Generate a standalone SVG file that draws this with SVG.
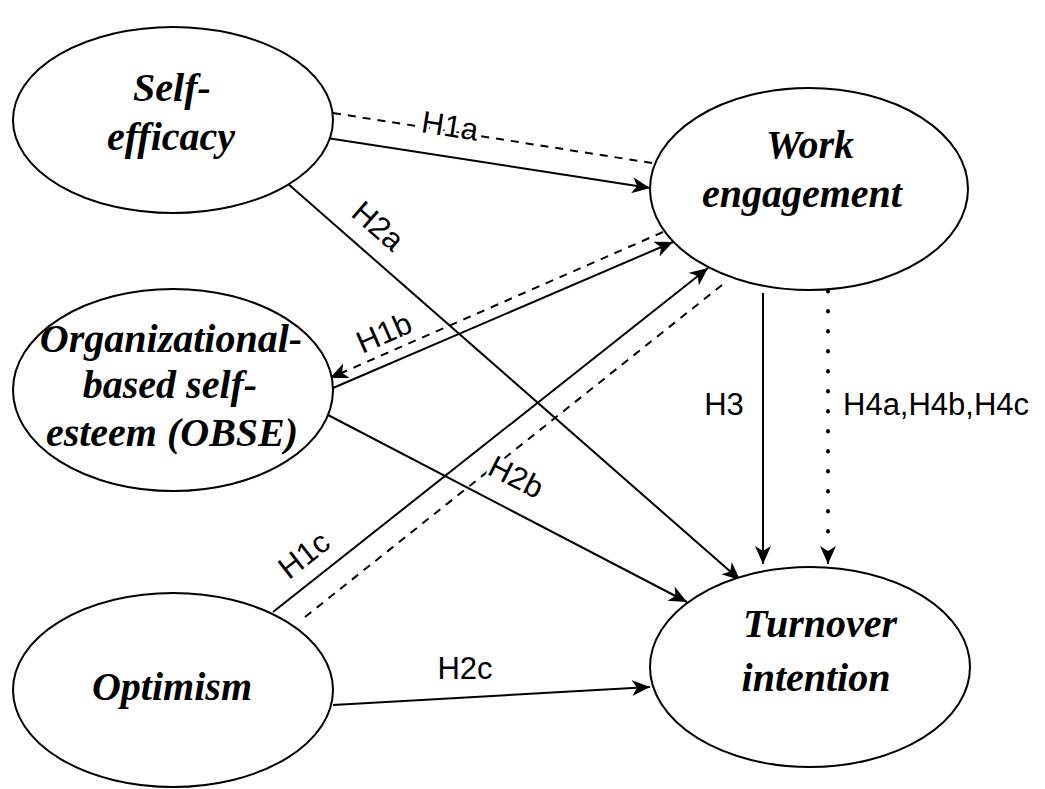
<svg xmlns="http://www.w3.org/2000/svg" width="1045" height="789" viewBox="0 0 1045 789">
<style>
.node ellipse{fill:#fff;stroke:#000;stroke-width:2}
.nt{font-family:"Liberation Serif","Times New Roman",serif;font-style:italic;font-weight:bold;font-size:40px;text-anchor:middle;fill:#000}
.lbl{font-family:"Liberation Sans",Arial,sans-serif;font-size:31px;fill:#000;text-anchor:middle;dominant-baseline:central;stroke:#fff;stroke-width:5;paint-order:stroke;stroke-linejoin:round}
.c{fill:none;stroke:#000;stroke-width:2}
.dash{stroke-dasharray:8 7}
.dot{stroke-dasharray:0.5 19.5;stroke-width:4;stroke-linecap:round}
</style>
<defs>
<marker id="ah" markerUnits="userSpaceOnUse" markerWidth="20" markerHeight="16" refX="18" refY="8" orient="auto">
<path d="M0,0 L18,8 L0,16 L5,8 z" fill="#000" stroke="none"/>
</marker>
</defs>
<rect width="1045" height="789" fill="#fff"/>
<g id="connectors">
<line class="c dash" x1="333" y1="113" x2="652" y2="163"/>
<line class="c" x1="327" y1="138" x2="650" y2="188" marker-end="url(#ah)"/>
<line class="c" x1="287" y1="183" x2="740" y2="580" marker-end="url(#ah)"/>
<line class="c dash" x1="663" y1="232" x2="330" y2="378" marker-end="url(#ah)"/>
<line class="c" x1="333" y1="388" x2="673" y2="242" marker-end="url(#ah)"/>
<line class="c" x1="273" y1="612" x2="708" y2="268" marker-end="url(#ah)"/>
<line class="c dash" x1="305" y1="617" x2="722" y2="285"/>
<line class="c" x1="328" y1="415" x2="687" y2="602" marker-end="url(#ah)"/>
<line class="c" x1="333" y1="705" x2="650" y2="687" marker-end="url(#ah)"/>
<line class="c" x1="763" y1="293" x2="763" y2="564" marker-end="url(#ah)"/>
<line class="c dot" x1="828" y1="291" x2="828" y2="548"/>
<line class="c" x1="828" y1="556" x2="828" y2="564" marker-end="url(#ah)"/>
<g id="labels">
<text class="lbl" transform="translate(450,126) rotate(9)">H1a</text>
<text class="lbl" transform="translate(378,226) rotate(41)">H2a</text>
<text class="lbl" transform="translate(384,333) rotate(-23.7)">H1b</text>
<text class="lbl" transform="translate(304,555) rotate(-38)">H1c</text>
<text class="lbl" transform="translate(516,477) rotate(27)">H2b</text>
<text class="lbl" x="465" y="668">H2c</text>
<text class="lbl" x="724" y="404">H3</text>
<text class="lbl" x="843" y="404" style="text-anchor:start">H4a,H4b,H4c</text>
</g>
</g>
<g id="self-efficacy" class="node">
<ellipse cx="173" cy="120" rx="160" ry="93"/>
<text class="nt" x="172" y="101">Self-</text>
<text class="nt" x="171" y="150">efficacy</text>
</g>
<g id="obse" class="node">
<ellipse cx="173" cy="390" rx="160" ry="101"/>
<text class="nt" x="171" y="352">Organizational-</text>
<text class="nt" x="170" y="398">based self-</text>
<text class="nt" x="172" y="446">esteem (OBSE)</text>
</g>
<g id="optimism" class="node">
<ellipse cx="173" cy="690" rx="160" ry="97"/>
<text class="nt" x="172" y="700">Optimism</text>
</g>
<g id="work-engagement" class="node">
<ellipse cx="809" cy="189" rx="159" ry="101"/>
<text class="nt" x="810" y="158">Work</text>
<text class="nt" x="802" y="207">engagement</text>
</g>
<g id="turnover-intention" class="node">
<ellipse cx="810" cy="667" rx="160" ry="100"/>
<text class="nt" x="820" y="637">Turnover</text>
<text class="nt" x="816" y="691">intention</text>
</g>
</svg>
